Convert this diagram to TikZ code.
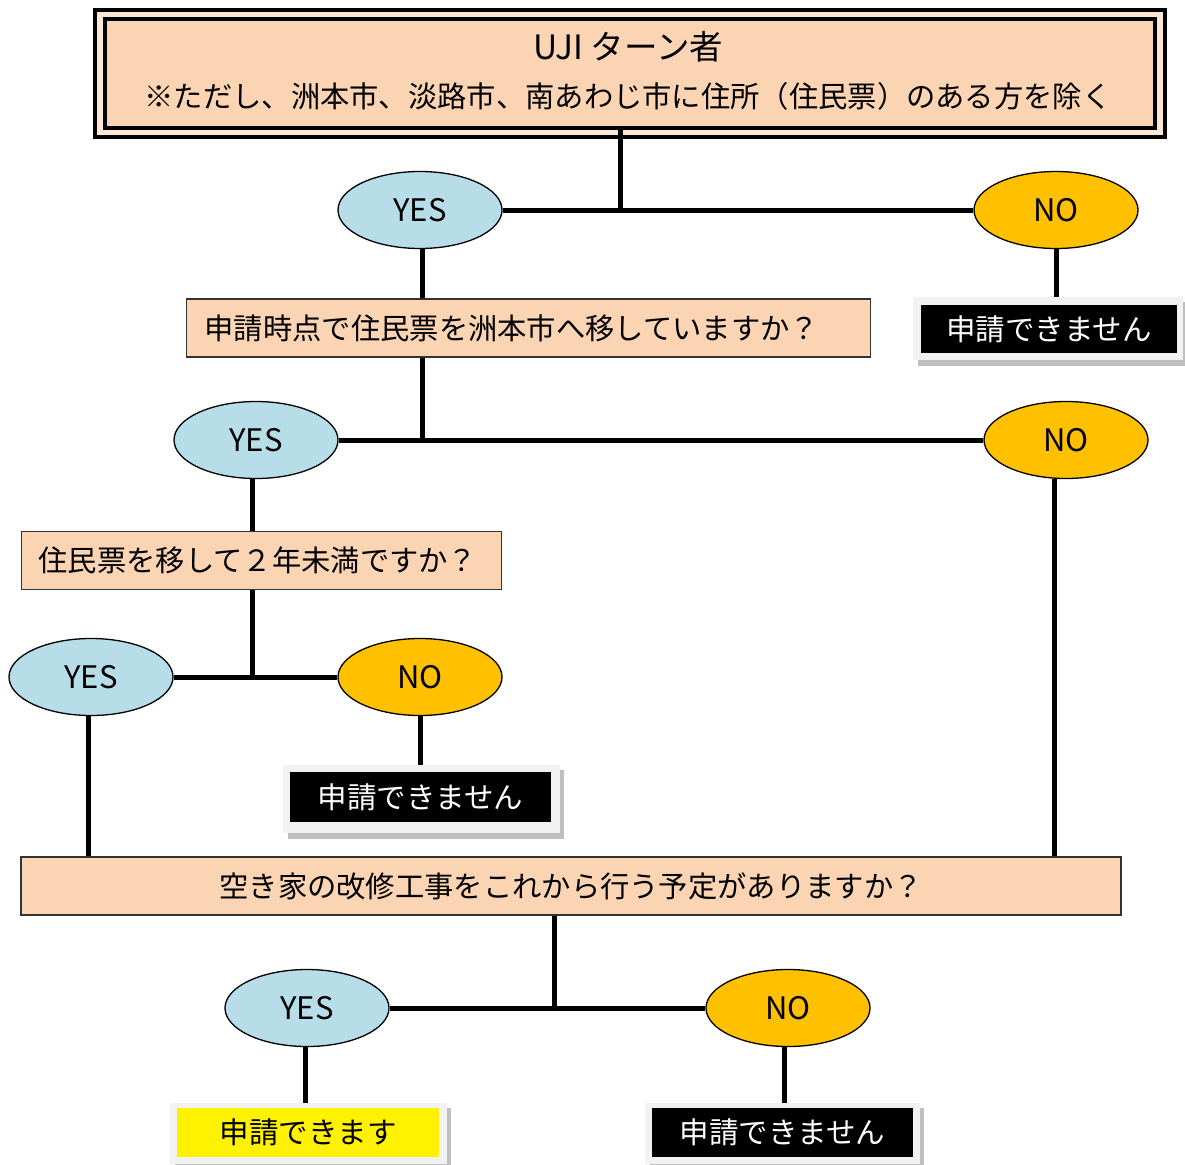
\documentclass[tikz,border=0pt]{standalone}
\usepackage{fontspec}
\setmainfont{Noto Sans CJK JP}
\usetikzlibrary{shapes.geometric}
\definecolor{peach}{HTML}{FBD4B4}
\definecolor{peachlt}{HTML}{FCE6D6}
\definecolor{lblue}{HTML}{B7DEE8}
\definecolor{orng}{HTML}{FFC000}
\definecolor{frame}{HTML}{F2F2F2}
\definecolor{shadowc}{HTML}{BFBFBF}
\tikzset{
  conn/.style={line width=5pt},
  yesnode/.style={ellipse,draw=black,line width=1.3pt,fill=lblue,minimum width=164pt,minimum height=77pt,inner sep=0pt,font=\fontsize{31}{34}\selectfont},
  nonode/.style={yesnode,fill=orng},
  qbox/.style={draw=black!80,line width=1.3pt,fill=peach,minimum height=58pt,inner sep=0pt,font=\fontsize{29.3}{33}\selectfont},
  resbox/.style={fill=black,text=white,inner sep=0pt,font=\fontsize{29.5}{33}\selectfont},
}
\newcommand{\framebg}[4]{%
  \fill[shadowc] (#1+5,#2+5) rectangle (#3+4,#4+6);
  \fill[frame] (#1,#2) rectangle (#3,#4);
}
\begin{document}
\begin{tikzpicture}[x=1pt,y=-1pt]
\useasboundingbox (0,0) rectangle (1185,1164);
\fill[white] (0,0) rectangle (1185,1164);

% title
\fill[peachlt] (95,10) rectangle (1165,137);
\draw[line width=4pt] (95,10) rectangle (1165,137);
\node[draw=black,line width=4pt,fill=peach,minimum width=1050pt,minimum height=108pt,inner sep=0pt,align=center] (title) at (630,73.5) {};
\node[font=\fontsize{33.5}{36}\selectfont] (t1) at (628,47) {UJI ターン者};
\node[font=\fontsize{29.3}{33}\selectfont] (t2) at (628,96) {※ただし、洲本市、淡路市、南あわじ市に住所（住民票）のある方を除く};

% level 1
\node[yesnode] (yes1) at (420,210) {YES};
\node[nonode] (no1) at (1056,210) {NO};
\coordinate (j1) at (620,210);
\draw[conn] (title.south -| j1) -- (j1);
\draw[conn] (yes1.east) -- (no1.west);

% no1 result
\framebg{913}{297}{1183}{360}
\node[resbox,minimum width=256pt,minimum height=48pt] (r1) at (1049,329) {申請できません};
\draw[conn] (no1.south) -- (no1.south |- 0,297);

% question 2
\node[qbox,anchor=west,minimum width=684pt,text width=648pt,inner xsep=18pt,align=left] (q2) at (186,328) {申請時点で住民票を洲本市へ移していますか？};
\coordinate (j2) at (422,440);
\draw[conn] (yes1.south -| j2) -- (q2.north -| j2);
\draw[conn] (q2.south -| j2) -- (j2);

% level 2
\node[yesnode] (yes2) at (256,440) {YES};
\node[nonode] (no2) at (1066,440) {NO};
\draw[conn] (yes2.east) -- (no2.west);

% question 3
\node[qbox,anchor=west,minimum width=480pt,text width=446pt,inner xsep=17pt,align=left] (q3) at (21,560.5) {住民票を移して２年未満ですか？};
\coordinate (j3) at (252,677);
\draw[conn] (yes2.south -| j3) -- (q3.north -| j3);
\draw[conn] (q3.south -| j3) -- (j3);

% level 3
\node[yesnode] (yes3) at (91,677) {YES};
\node[nonode] (no3) at (420,677) {NO};
\draw[conn] (yes3.east) -- (no3.west);

% no3 result
\framebg{283}{765}{560}{833}
\node[resbox,minimum width=261pt,minimum height=50pt] (r3) at (420.5,797) {申請できません};
\draw[conn] (no3.south -| r3) -- (r3.north |- 0,765);

% question 4
\node[qbox,minimum width=1100pt] (q4) at (571,886) {空き家の改修工事をこれから行う予定がありますか？};
\coordinate (c3) at (88,700);
\coordinate (c2) at (1054,700);
\draw[conn] (yes3.south -| c3) -- (q4.north -| c3);
\draw[conn] (no2.south -| c2) -- (q4.north -| c2);

% level 4
\node[yesnode] (yes4) at (307,1008) {YES};
\node[nonode] (no4) at (788,1008) {NO};
\coordinate (j4) at (554,1008);
\draw[conn] (q4.south -| j4) -- (j4);
\draw[conn] (yes4.east) -- (no4.west);

% results
\framebg{170}{1103}{447}{1164}
\node[fill=yellow,text=black,inner sep=0pt,font=\fontsize{29.5}{33}\selectfont,minimum width=262pt,minimum height=49pt] (r4) at (308,1132.5) {申請できます};
\framebg{645}{1103}{920}{1164}
\node[resbox,minimum width=261pt,minimum height=49pt] (r5) at (782.5,1132.5) {申請できません};
\coordinate (c4) at (305,1040);
\coordinate (c5) at (784,1040);
\draw[conn] (yes4.south -| c4) -- (c4 |- 0,1103);
\draw[conn] (no4.south -| c5) -- (c5 |- 0,1103);
\end{tikzpicture}
\end{document}
